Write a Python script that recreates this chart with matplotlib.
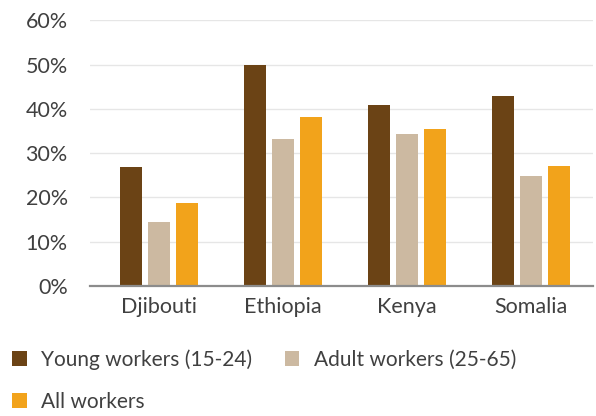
import numpy as np
import matplotlib
matplotlib.use('Agg')
import matplotlib.pyplot as plt
from matplotlib.patches import Patch

# Share of workers by age group and country
countries = ['Djibouti', 'Ethiopia', 'Kenya', 'Somalia']
series_names = ['Young workers (15-24)', 'Adult workers (25-65)', 'All workers']
young = [26.8, 50.0, 40.8, 42.9]
adult = [14.4, 33.1, 34.3, 24.8]
all_workers = [18.7, 38.1, 35.4, 27.0]
colors = ['#6b4315', '#ccb9a1', '#f2a31b']

plt.rcParams['font.family'] = ['Lato', 'DejaVu Sans']
text_color = '#404040'
fsize = 15.5

fig = plt.figure(figsize=(5.96, 4.16), dpi=100)
ax = fig.add_axes([0.151, 0.3125, 0.844, 0.6385])

x = np.arange(len(countries))
width = 0.177
step = 0.226
for i, (vals, c) in enumerate(zip([young, adult, all_workers], colors)):
    ax.bar(x + (i - 1) * step, np.array(vals) / 100, width=width, color=c, zorder=3)

ax.set_xlim(-0.556, 3.5)
ax.set_ylim(0, 0.6)
ax.set_yticks(np.arange(0, 0.61, 0.1))
ax.set_yticklabels([f'{int(round(v * 100))}%' for v in np.arange(0, 0.61, 0.1)])
ax.set_xticks(x)
ax.set_xticklabels(countries)
ax.tick_params(axis='both', length=0, labelsize=fsize, colors=text_color)
ax.tick_params(axis='x', pad=8)
ax.tick_params(axis='y', pad=16)

ax.grid(axis='y', color='#e6e6e6', linewidth=1, zorder=0)
for side in ['top', 'right', 'left']:
    ax.spines[side].set_visible(False)
ax.spines['bottom'].set_color('#8c8c8c')
ax.spines['bottom'].set_linewidth(1.6)
ax.spines['bottom'].set_zorder(4)

# legend fills columns first: young + all in the left column, adult on the right
order = [0, 2, 1]
handles = [Patch(facecolor=colors[k], edgecolor='none') for k in order]
labels = [series_names[k] for k in order]
fig.legend(handles, labels, ncol=2, loc='upper left',
           bbox_to_anchor=(0.02, 0.16), frameon=False, fontsize=15,
           labelcolor=text_color, handlelength=0.7, handleheight=0.7,
           handletextpad=0.7, columnspacing=1.55, labelspacing=1.05,
           borderaxespad=0, borderpad=0)

plt.savefig('out.png', dpi=100)
